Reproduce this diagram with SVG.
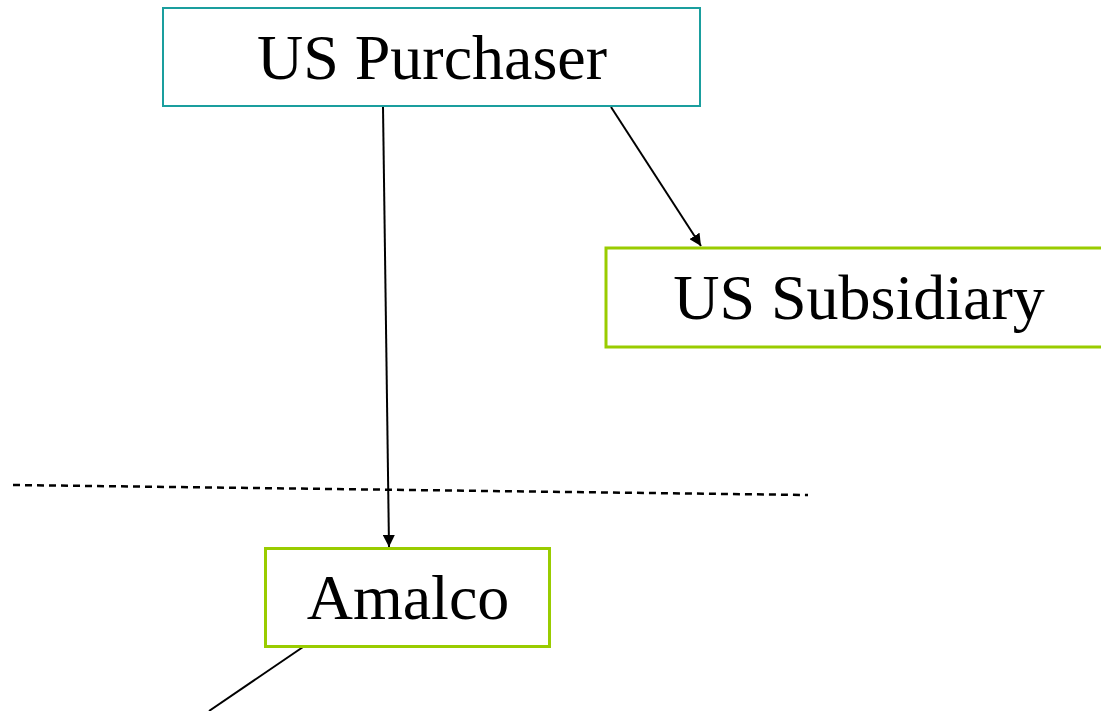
<svg xmlns="http://www.w3.org/2000/svg" width="1101" height="711" viewBox="0 0 1101 711">
  <style>
    .box { fill: #ffffff; }
    .teal { stroke: #1a9e9e; stroke-width: 2; }
    .green { stroke: #99cc00; stroke-width: 3; }
    .label { font-family: "Liberation Serif", "Times New Roman", serif; font-size: 64px; fill: #000000; text-anchor: middle; }
    .link { stroke: #000000; stroke-width: 2; fill: none; }
    .divider { stroke: #000000; stroke-width: 2.5; stroke-dasharray: 7 5; fill: none; }
  </style>
  <defs>
    <marker id="arrow" viewBox="0 0 12 12" refX="12" refY="6" markerWidth="12" markerHeight="12" markerUnits="userSpaceOnUse" orient="auto">
      <path d="M0,0 L12,6 L0,12 Z" fill="#000000"/>
    </marker>
  </defs>
  <rect width="1101" height="711" fill="#ffffff"/>

  <!-- jurisdiction boundary -->
  <line class="divider" x1="13" y1="485" x2="808" y2="495"/>

  <g id="connectors">
    <line class="link" x1="383" y1="107" x2="389" y2="547" marker-end="url(#arrow)"/>
    <line class="link" x1="611" y1="107" x2="701" y2="246" marker-end="url(#arrow)"/>
    <line class="link" x1="303" y1="647" x2="209" y2="711"/>
  </g>

  <g id="us-purchaser">
    <rect class="box teal" x="163" y="8" width="537" height="98"/>
    <text class="label" x="432" y="79">US Purchaser</text>
  </g>

  <g id="us-subsidiary">
    <rect class="box green" x="606" y="248" width="510" height="99"/>
    <text class="label" x="859" y="319">US Subsidiary</text>
  </g>

  <g id="amalco">
    <rect class="box green" x="265.5" y="548.5" width="284" height="98"/>
    <text class="label" x="408" y="619">Amalco</text>
  </g>
</svg>
